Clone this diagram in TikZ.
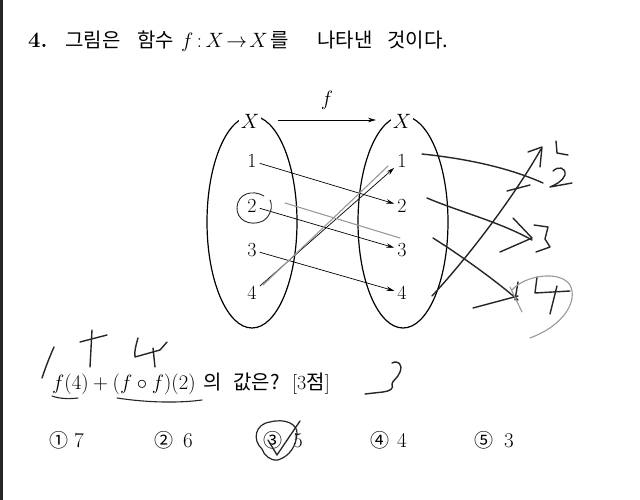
\documentclass[tikz,border=0pt]{standalone}
\usepackage{fontspec}
\usetikzlibrary{shapes.geometric,arrows.meta}
\newfontfamily\kr{Noto Sans CJK KR}
\begin{document}
\begin{tikzpicture}[x=1pt,y=-1pt,
  kor/.style={font=\kr\fontsize{20}{24}\selectfont, inner sep=0pt, anchor=base west},
  mth/.style={font=\fontsize{22}{26}\selectfont, inner sep=0pt, anchor=base west},
  num/.style={font=\fontsize{20}{24}\selectfont, inner sep=3pt},
  setx/.style={font=\fontsize{22}{26}\selectfont, fill=white, inner sep=1.5pt},
  setell/.style={draw, ellipse, line width=1.2pt, minimum width=90pt, minimum height=212pt, inner sep=0pt},
  arr/.style={-{Stealth[length=8pt,width=4.5pt]}, line width=0.7pt},
  hw/.style={line width=1.4pt, draw=black!85, line cap=round, line join=round},
  pencil/.style={line width=1.1pt, draw=black!40, line cap=round, line join=round}]
\useasboundingbox (0,0) rectangle (640,500);
\fill[white] (0,0) rectangle (640,500);
\fill[black!85] (0,0) rectangle (3,500);
% title
\node[mth, font=\bfseries\fontsize{22}{26}\selectfont] (qnum) at (28,48) {4.};
\node[kor] (t1) at (65,48) {그림은};
\node[kor] (t2) at (137,48) {함수};
\node[mth, font=\fontsize{21}{25}\selectfont] (t3) at (181,48) {$f\,{:}\,X\!\rightarrow\! X$};
\node[kor, anchor=base west] (t4) at ([xshift=2pt]t3.base east) {를};
\node[kor] (t5) at (317,48) {나타낸};
\node[kor] (t6) at (387,48) {것이다.};
% sets
\node[setell] (EL) at (252,222) {};
\node[setell] (ER) at (403,222) {};
\node[setx] (XL) at (250,121) {$X$};
\node[setx] (XR) at (402,121) {$X$};
\coordinate (fs) at (278,120);
\coordinate (fe) at (376,120);
\draw[arr] (fs) -- (fe) node[midway, above=7pt, font=\fontsize{20}{22}\selectfont] (flab) {$f$};
\foreach \i/\y in {1/161,2/206,3/250,4/293}{
  \node[num] (L\i) at (252,\y) {\i};
  \node[num] (R\i) at (402,\y) {\i};
}
\draw[arr] (L1) -- (R2);
\draw[arr] (L2) -- (R3);
\draw[arr] (L3) -- (R4);
\draw[arr] (L4) -- (R1);
% pencil marks in the diagram
\draw[pencil] (263,285) -- (388,166);
\draw[pencil] (285,203) -- (400,238);
\draw[hw, line width=0.9pt] (264,196) .. controls (252,189) and (238,194) .. (237,207)
  .. controls (236,220) and (250,227) .. (263,221) .. controls (271,216) and (273,206) .. (270,200);
% handwriting right
\draw[hw] (422,154) .. controls (460,158) and (505,166) .. (543,183);
\draw[hw] (432,296) .. controls (470,255) and (515,195) .. (541,149);
\draw[hw] (528,152) -- (542,147) -- (540,167);
\draw[hw] (556,141) -- (557,153) -- (568,155);
\draw[hw] (553,171) .. controls (558,166) and (566,167) .. (565,175) .. controls (563,181) and (555,185) .. (550,187) -- (572,183);
\draw[hw] (507,191) -- (530,185);
\draw[hw] (427,198) .. controls (460,212) and (500,222) .. (532,240);
\draw[hw] (513,218) -- (532,238) -- (500,252);
\draw[hw] (534,225) -- (548,227) -- (545,239) -- (550,247) -- (536,252);
\draw[hw] (433,238) .. controls (460,255) and (495,280) .. (518,300);
\draw[hw] (473,308) -- (518,296);
\draw[hw] (518,282) -- (515,300);
\draw[hw] (537,277) -- (535,293) -- (570,291);
\draw[hw] (557,286) -- (550,314);
\draw[pencil] (512,290) .. controls (525,275) and (560,270) .. (570,285) .. controls (578,300) and (565,325) .. (530,338);
\draw[pencil] (510,287) -- (522,312);
% question line
\node[mth, font=\fontsize{21}{25}\selectfont] (q1) at (52,389) {$f(4)+(f\circ f)(2)$};
\node[kor] (q2) at (203,389) {의};
\node[kor] (q3) at (233,389) {값은?};
\node[mth, font=\fontsize{20}{24}\selectfont] (q4) at (292,389) {[3{\kr 점}]};
\draw[hw] (42,378) .. controls (46,366) and (50,356) .. (54,347);
\draw[hw] (92,330) -- (90,367);
\draw[hw] (80,342) -- (107,335);
\draw[hw] (138,338) .. controls (136,345) and (134,352) .. (135,357) -- (160,350) -- (167,342);
\draw[hw] (153,348) -- (155,367);
\draw[hw, line width=1.1pt] (52,396) .. controls (60,399) and (70,399) .. (78,398);
\draw[hw, line width=1.1pt] (117,398) .. controls (150,403) and (180,403) .. (202,400);
\draw[hw] (392,363) .. controls (398,360) and (403,364) .. (400,372) .. controls (398,378) and (392,381) .. (392,384)
  .. controls (394,389) and (390,391) .. (383,392) -- (365,394);
% choices
\foreach \c/\cx/\d/\dx in {①/59/7/79, ②/164/6/188, ③/273/5/298, ④/380/4/402, ⑤/484/3/509}{
  \node[font=\kr\fontsize{19}{22}\selectfont, inner sep=0pt, anchor=base] (c\d) at (\cx,447) {\c};
  \node[font=\fontsize{21}{24}\selectfont, inner sep=0pt, anchor=base] (d\d) at (\dx,447) {\d};
}
\draw[hw, line width=1.2pt] (262,449) .. controls (252,440) and (255,424) .. (270,422)
  .. controls (285,418) and (298,424) .. (297,434) .. controls (296,446) and (290,456) .. (278,460)
  .. controls (270,461) and (264,455) .. (262,449);
\draw[hw, line width=1.3pt] (268,440) -- (277,455) -- (300,421);
\end{tikzpicture}
\end{document}
